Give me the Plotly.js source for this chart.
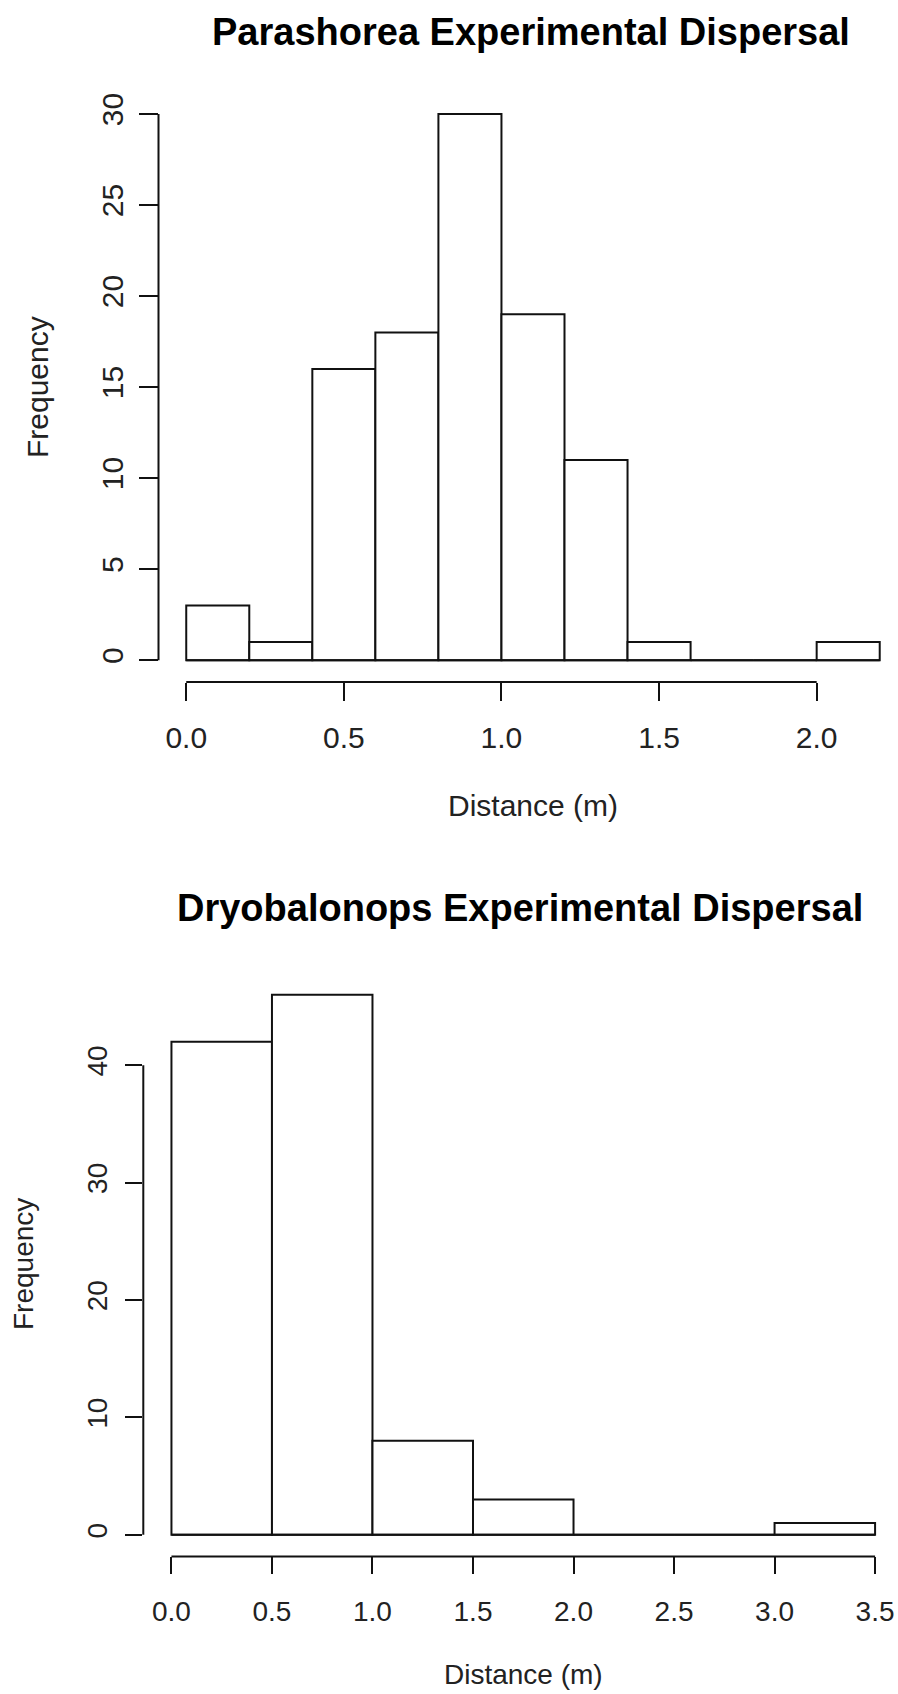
<!DOCTYPE html>
<html><head><meta charset="utf-8">
<script src="https://cdn.plot.ly/plotly-3.0.1.min.js"></script>
<style>html,body{margin:0;padding:0;background:#fff;overflow:hidden}</style>
</head><body><div id="chart" style="width:898px;height:1694px"></div>
<script>
// ---- data ----
const parashoreaBinEdges = [0.0, 0.2, 0.4, 0.6, 0.8, 1.0, 1.2, 1.4, 1.6, 1.8, 2.0, 2.2];
const parashoreaCounts = [3, 1, 16, 18, 30, 19, 11, 1, 0, 0, 1];
const parashoreaXTicks = [0.0, 0.5, 1.0, 1.5, 2.0];
const parashoreaXTickLabels = ["0.0", "0.5", "1.0", "1.5", "2.0"];
const parashoreaYTicks = [0, 5, 10, 15, 20, 25, 30];
const parashoreaYTickLabels = ["0", "5", "10", "15", "20", "25", "30"];

const dryobalanopsBinEdges = [0.0, 0.5, 1.0, 1.5, 2.0, 2.5, 3.0, 3.5];
const dryobalanopsCounts = [42, 46, 8, 3, 0, 0, 1];
const dryobalanopsXTicks = [0.0, 0.5, 1.0, 1.5, 2.0, 2.5, 3.0, 3.5];
const dryobalanopsXTickLabels = ["0.0", "0.5", "1.0", "1.5", "2.0", "2.5", "3.0", "3.5"];
const dryobalanopsYTicks = [0, 10, 20, 30, 40];
const dryobalanopsYTickLabels = ["0", "10", "20", "30", "40"];

const chartTitles = ["Parashorea Experimental Dispersal", "Dryobalonops Experimental Dispersal"];
const xAxisTitle = "Distance (m)";
const yAxisTitle = "Frequency";

// ---- layout helpers ----
const W = 898, H = 1694;
const px = x => x / W;
const py = y => 1 - y / H;
const FONT = "Liberation Sans, Arial, Helvetica, sans-serif";
const INK = "#111111";
const TXT = "#222222";

function centers(edges) { return edges.slice(0, -1).map((e, i) => (e + edges[i + 1]) / 2); }
function widths(edges) { return edges.slice(0, -1).map((e, i) => edges[i + 1] - e); }

function histTraces(edges, counts, xa, ya) {
  return [
    { type: "scatter", mode: "lines", x: [edges[0], edges[edges.length - 1]], y: [0, 0],
      line: { color: INK, width: 2 }, xaxis: xa, yaxis: ya, hoverinfo: "skip", showlegend: false },
    { type: "bar", x: centers(edges), y: counts, width: widths(edges),
      marker: { color: "white", line: { color: INK, width: 2 } },
      xaxis: xa, yaxis: ya, hoverinfo: "skip", showlegend: false }
  ];
}

const data = [
  ...histTraces(parashoreaBinEdges, parashoreaCounts, "x", "y"),
  ...histTraces(dryobalanopsBinEdges, dryobalanopsCounts, "x2", "y2")
];

function rPad(arr) { const mx = Math.max(...arr); return 0.04 * mx; }
const padTop = rPad(parashoreaCounts), padBot = rPad(dryobalanopsCounts);
const topXPad = 0.04 * (parashoreaBinEdges[parashoreaBinEdges.length - 1] - parashoreaBinEdges[0]);
const botXPad = 0.04 * (dryobalanopsBinEdges[dryobalanopsBinEdges.length - 1] - dryobalanopsBinEdges[0]);

function xAxis(domain, range, ticks, labels, size, tlen, standoff) {
  return { domain, range, tickmode: "array", tickvals: ticks, ticktext: labels,
    ticks: "outside", ticklen: tlen, tickwidth: 2, tickcolor: INK,
    showgrid: false, zeroline: false, showline: false, fixedrange: true,
    ticklabelstandoff: standoff,
    tickfont: { family: FONT, size, color: TXT } };
}
function yAxis(domain, range, ticks, labels, size, tlen, standoff, anchor) {
  return { domain, range, anchor, tickmode: "array", tickvals: ticks, ticktext: labels,
    ticks: "outside", ticklen: tlen, tickwidth: 2, tickcolor: INK, tickangle: -90,
    showgrid: false, zeroline: false, showline: false, fixedrange: true,
    ticklabelstandoff: standoff,
    tickfont: { family: FONT, size, color: TXT } };
}

const layout = {
  width: W, height: H, margin: { l: 0, r: 0, t: 0, b: 0 },
  paper_bgcolor: "white", plot_bgcolor: "white", showlegend: false, barmode: "overlay",
  xaxis: Object.assign(xAxis([px(158.5), 1], [parashoreaBinEdges[0] - topXPad, 2.258],
    parashoreaXTicks, parashoreaXTickLabels, 30, 18, 11), { anchor: "y" }),
  yaxis: yAxis([py(682), py(92.2)], [-padTop, Math.max(...parashoreaCounts) + padTop],
    parashoreaYTicks, parashoreaYTickLabels, 30, 19, 4, "x"),
  xaxis2: Object.assign(xAxis([px(143.3), 1], [dryobalanopsBinEdges[0] - botXPad, 3.614],
    dryobalanopsXTicks, dryobalanopsXTickLabels, 28, 17, 13), { anchor: "y2" }),
  yaxis2: yAxis([py(1556.4), py(973.1)], [-padBot, Math.max(...dryobalanopsCounts) + padBot],
    dryobalanopsYTicks, dryobalanopsYTickLabels, 28, 17, 7, "x2"),
  shapes: [
    { type: "line", xref: "x", yref: "y domain", x0: parashoreaXTicks[0], x1: parashoreaXTicks[parashoreaXTicks.length - 1], y0: 0, y1: 0, line: { color: INK, width: 2 } },
    { type: "line", xref: "x domain", yref: "y", x0: 0, x1: 0, y0: parashoreaYTicks[0], y1: parashoreaYTicks[parashoreaYTicks.length - 1], line: { color: INK, width: 2 } },
    { type: "line", xref: "x2", yref: "y2 domain", x0: dryobalanopsXTicks[0], x1: dryobalanopsXTicks[dryobalanopsXTicks.length - 1], y0: 0, y1: 0, line: { color: INK, width: 2 } },
    { type: "line", xref: "x2 domain", yref: "y2", x0: 0, x1: 0, y0: dryobalanopsYTicks[0], y1: dryobalanopsYTicks[dryobalanopsYTicks.length - 1], line: { color: INK, width: 2 } }
  ],
  annotations: [
    { text: "<b>" + chartTitles[0] + "</b>", xref: "paper", yref: "paper", x: px(531), y: py(32), xanchor: "center", yanchor: "middle", showarrow: false, font: { family: FONT, size: 38, color: "#000" } },
    { text: "<b>" + chartTitles[1] + "</b>", xref: "paper", yref: "paper", x: px(520), y: py(908), xanchor: "center", yanchor: "middle", showarrow: false, font: { family: FONT, size: 38, color: "#000" } },
    { text: xAxisTitle, xref: "paper", yref: "paper", x: px(533), y: py(805), xanchor: "center", yanchor: "middle", showarrow: false, font: { family: FONT, size: 30, color: TXT } },
    { text: xAxisTitle, xref: "paper", yref: "paper", x: px(523), y: py(1674), xanchor: "center", yanchor: "middle", showarrow: false, font: { family: FONT, size: 28, color: TXT } },
    { text: yAxisTitle, xref: "paper", yref: "paper", x: px(37), y: py(387), xanchor: "center", yanchor: "middle", textangle: -90, showarrow: false, font: { family: FONT, size: 30, color: TXT } },
    { text: yAxisTitle, xref: "paper", yref: "paper", x: px(23), y: py(1264), xanchor: "center", yanchor: "middle", textangle: -90, showarrow: false, font: { family: FONT, size: 28, color: TXT } }
  ]
};

Plotly.newPlot("chart", data, layout, { displayModeBar: false, staticPlot: true });
</script>
</body></html>
